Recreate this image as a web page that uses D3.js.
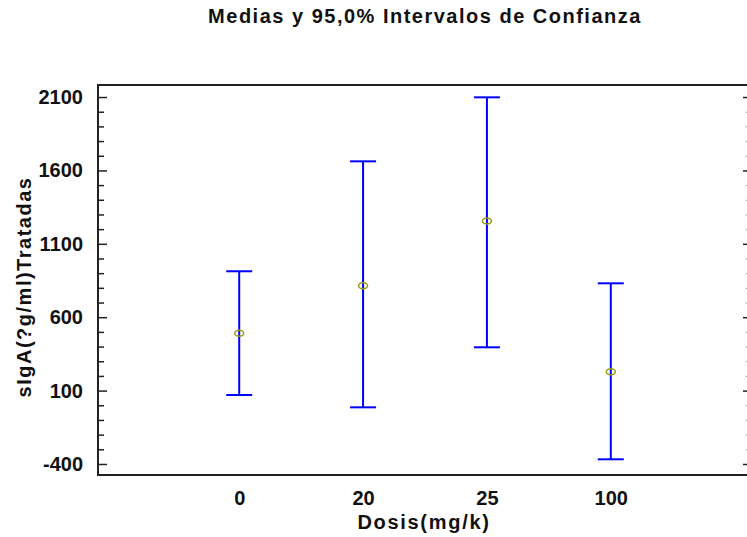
<!DOCTYPE html>
<html><head><meta charset="utf-8">
<script src="https://cdn.jsdelivr.net/npm/d3@7"></script>
<style>body{margin:0;background:#fff}</style>
</head><body><svg id="c" width="747" height="537"></svg>
<script>
const categories = ["0", "20", "25", "100"];
const means = [490, 815, 1255, 229];
const lower = [70, -14, 395, -368];
const upper = [913, 1662, 2098, 831];
const yTicks = [-400, 100, 600, 1100, 1600, 2100];
const yMinor = [-300,-200,-100,0,200,300,400,500,700,800,900,1000,1200,1300,1400,1500,1700,1800,1900,2000];
const title = "Medias y 95,0% Intervalos de Confianza";
const xTitle = "Dosis(mg/k)";
const yTitle = "sIgA(?g/ml)Tratadas";

const svg = d3.select("#c");
const L = 98, R = 752, T = 85, B = 475;
const FONT = "'Liberation Sans', Arial, sans-serif";

const x = d3.scalePoint().domain(categories).range([L, R]).padding(1.14);
const y = d3.scaleLinear().domain([-475, 2182]).range([B, T]);

// frame
svg.append("rect").attr("x", L).attr("y", T).attr("width", R - L).attr("height", B - T)
  .attr("fill", "none").attr("stroke", "#222").attr("stroke-width", 2);

// left axis
const la = svg.append("g").attr("transform", `translate(${L},0)`)
  .call(d3.axisLeft(y).tickValues(yTicks).tickSizeInner(-9).tickSizeOuter(0).tickPadding(15)
    .tickFormat(d => String(d)));
la.select(".domain").remove();
la.selectAll("line").attr("stroke", "#222").attr("stroke-width", 1.5);
la.selectAll("text").attr("font-family", FONT).attr("font-weight", "bold").attr("font-size", 20).attr("fill", "#111");
const lm = svg.append("g").attr("transform", `translate(${L},0)`)
  .call(d3.axisLeft(y).tickValues(yMinor).tickSizeInner(-6).tickSizeOuter(0).tickFormat(""));
lm.select(".domain").remove();
lm.selectAll("line").attr("stroke", "#222").attr("stroke-width", 1.5);

// right axis
const ra = svg.append("g").attr("transform", `translate(${R},0)`)
  .call(d3.axisRight(y).tickValues(yTicks).tickSizeInner(-9).tickSizeOuter(0).tickFormat(""));
ra.select(".domain").remove();
ra.selectAll("line").attr("stroke", "#222").attr("stroke-width", 1.5);
const rm = svg.append("g").attr("transform", `translate(${R},0)`)
  .call(d3.axisRight(y).tickValues(yMinor).tickSizeInner(-6).tickSizeOuter(0).tickFormat(""));
rm.select(".domain").remove();
rm.selectAll("line").attr("stroke", "#888").attr("stroke-width", 1);

// bottom axis labels
const ba = svg.append("g").attr("transform", `translate(0,${B})`)
  .call(d3.axisBottom(x).tickSize(0).tickPadding(16));
ba.select(".domain").remove();
ba.selectAll("text").attr("font-family", FONT).attr("font-weight", "bold").attr("font-size", 20).attr("fill", "#111");

// titles
svg.append("text").attr("x", (L + R) / 2).attr("y", 23).attr("text-anchor", "middle")
  .attr("font-family", FONT).attr("font-weight", "bold").attr("font-size", 20).attr("letter-spacing", 1.5)
  .attr("fill", "#111").text(title);
svg.append("text").attr("x", (L + R) / 2 - 1).attr("y", 529).attr("text-anchor", "middle")
  .attr("font-family", FONT).attr("font-weight", "bold").attr("font-size", 20).attr("letter-spacing", 1.7)
  .attr("fill", "#111").text(xTitle);
svg.append("text").attr("transform", `translate(31,287) rotate(-90)`).attr("text-anchor", "middle")
  .attr("font-family", FONT).attr("font-weight", "bold").attr("font-size", 20).attr("letter-spacing", 1.5)
  .attr("fill", "#111").text(yTitle);

// error bars
const g = svg.append("g");
categories.forEach((c, i) => {
  const cx = x(c);
  g.append("line").attr("x1", cx).attr("x2", cx).attr("y1", y(lower[i])).attr("y2", y(upper[i]))
    .attr("stroke", "#0000ff").attr("stroke-width", 2);
  [lower[i], upper[i]].forEach(v => {
    g.append("line").attr("x1", cx - 13).attr("x2", cx + 13).attr("y1", y(v)).attr("y2", y(v))
      .attr("stroke", "#0000ff").attr("stroke-width", 2);
  });
  g.append("ellipse").attr("cx", cx).attr("cy", y(means[i])).attr("rx", 4.5).attr("ry", 3)
    .attr("fill", "none").attr("stroke", "#9a9a10").attr("stroke-width", 1.5);
});
</script></body></html>
